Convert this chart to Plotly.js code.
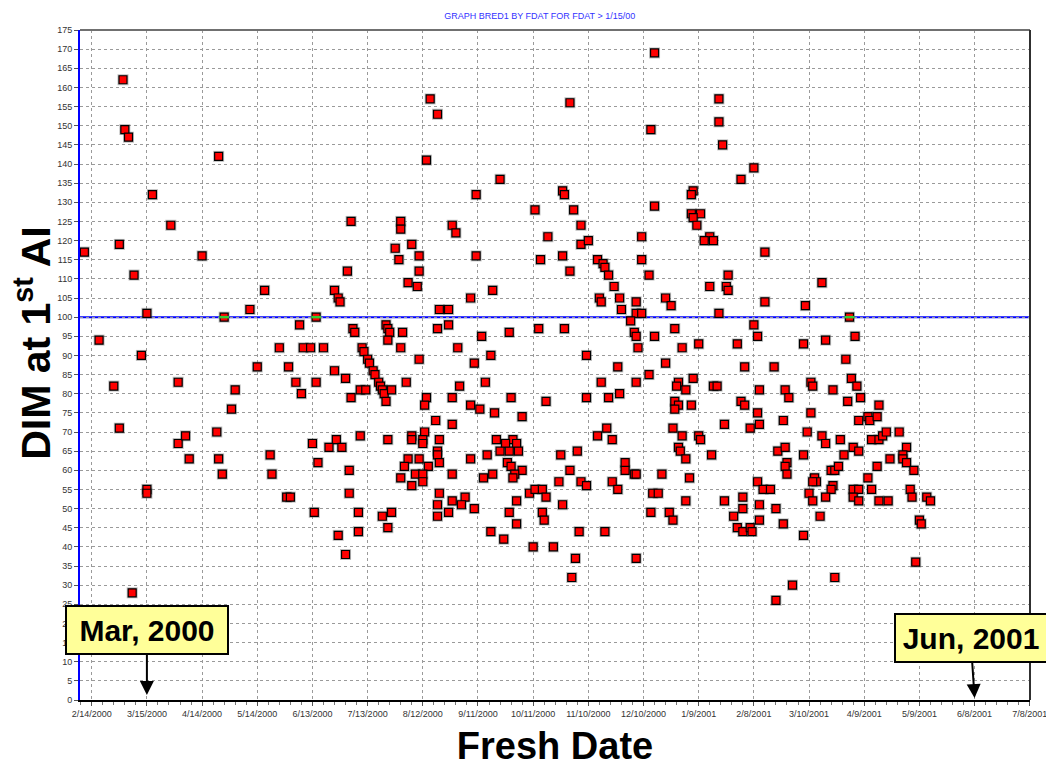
<!DOCTYPE html>
<html>
<head>
<meta charset="utf-8">
<script src="https://cdn.plot.ly/plotly-3.0.1.min.js"></script>
<style>
  html, body { margin: 0; padding: 0; background: #ffffff; }
  #chart { width: 1046px; height: 767px; }
</style>
</head>
<body>
<div id="chart"></div>
<script>
// ---------- DATA ----------
const chartTitle = 'GRAPH BRED1 BY FDAT FOR FDAT > 1/15/00';
const xAxisTitle = 'Fresh Date';
const yAxisTitle = 'DIM at 1<sup>st</sup> AI';

const xTickDates = ['2000-02-14','2000-03-15','2000-04-14','2000-05-14','2000-06-13','2000-07-13',
  '2000-08-12','2000-09-11','2000-10-11','2000-11-10','2000-12-10','2001-01-09','2001-02-08',
  '2001-03-10','2001-04-09','2001-05-09','2001-06-08','2001-07-08'];
const xTickLabels = ['2/14/2000','3/15/2000','4/14/2000','5/14/2000','6/13/2000','7/13/2000',
  '8/12/2000','9/11/2000','10/11/2000','11/10/2000','12/10/2000','1/9/2001','2/8/2001',
  '3/10/2001','4/9/2001','5/9/2001','6/8/2001','7/8/2001'];

const targetDIM = 100;

// Fresh date of each cow and its DIM at first AI
const freshDates = [
 '2000-02-10','2000-02-18','2000-03-02','2000-03-03','2000-03-05','2000-04-23','2000-03-18','2000-03-28',
 '2000-02-29','2000-03-08','2000-04-14','2000-03-15','2000-05-10','2000-03-12',
 '2000-02-26','2000-02-29','2000-04-01','2000-04-01','2000-04-05','2000-04-07','2000-04-22','2000-04-23',
 '2000-04-25','2000-04-30','2000-05-02','2000-05-14','2000-03-15','2000-03-15','2000-03-07',
 '2000-08-16','2000-08-20','2000-08-14','2000-07-04','2000-07-31','2000-07-31','2000-07-28','2000-08-06',
 '2000-07-30','2000-08-10','2000-07-02','2000-08-10','2000-08-04','2000-08-09','2000-05-18','2000-06-25',
 '2000-06-27','2000-06-28','2000-08-21','2000-06-06','2000-07-05','2000-07-06','2000-07-23','2000-07-24',
 '2000-07-25','2000-08-01','2000-07-24','2000-08-20','2000-05-26','2000-06-08','2000-06-12','2000-06-19',
 '2000-07-10','2000-07-11','2000-07-31','2000-08-10','2000-07-13',
 '2000-05-31','2000-07-14','2000-07-16','2000-07-17','2000-07-19','2000-07-20','2000-07-21','2000-07-22',
 '2000-07-23','2000-06-25','2000-07-01','2000-06-04','2000-06-15','2000-06-07','2000-07-09','2000-07-12',
 '2000-07-26','2000-07-04','2000-08-03','2000-08-14','2000-08-13','2000-08-19','2000-08-13','2000-08-06',
 '2000-08-06','2000-08-12','2000-08-12','2000-08-21','2000-07-09','2000-07-24','2000-06-26','2000-06-13',
 '2000-06-22','2000-06-29','2000-05-21','2000-06-16','2000-05-22','2000-07-03','2000-08-04','2000-08-10',
 '2000-08-20','2000-08-20','2000-08-02','2000-08-15','2000-08-08','2000-08-12','2000-08-12','2000-07-31',
 '2000-08-06','2000-08-21','2000-08-20','2000-08-20','2000-05-30','2000-06-01','2000-07-03','2000-06-14',
 '2000-07-08','2000-07-21','2000-07-26','2000-07-24','2000-06-27','2000-07-08','2000-07-01','2000-08-21',
 '2000-10-31','2000-09-23','2000-09-10','2000-10-27','2000-10-28','2000-10-12','2000-11-02','2000-08-28',
 '2000-08-30','2000-11-06','2000-10-19','2000-11-06','2000-11-10','2000-09-10','2000-10-15','2000-10-27',
 '2000-10-31','2000-11-15','2000-11-18','2000-11-19','2000-11-21','2000-11-24','2000-11-27','2000-11-28',
 '2000-11-16','2000-11-17','2000-12-06','2000-12-06','2000-09-07','2000-09-19','2000-08-26','2000-12-03',
 '2000-08-26','2000-09-13','2000-09-28','2000-10-14','2000-10-28','2000-12-05','2000-12-06','2000-12-07',
 '2000-08-31','2000-09-18','2000-11-09',
 '2000-09-09','2000-11-26','2000-09-01','2000-09-15','2000-11-17','2000-12-06','2000-08-28','2000-09-29',
 '2000-10-18','2000-11-09','2000-11-21','2000-11-27','2000-09-07','2000-09-12','2000-09-20','2000-10-05',
 '2000-08-28','2000-11-20','2000-11-15','2000-11-23','2000-09-21','2000-09-30','2000-09-26','2000-10-02',
 '2000-09-23','2000-09-28','2000-10-03','2000-09-07','2000-09-16','2000-10-26','2000-11-04','2000-09-27',
 '2000-09-29','2000-10-05','2000-10-01','2000-09-30','2000-08-28','2000-09-19','2000-09-14','2000-10-31',
 '2000-11-30','2000-11-30','2000-12-05','2000-12-06','2000-10-25','2000-11-06','2000-11-09','2000-11-23',
 '2000-11-26','2000-08-28','2000-09-04','2000-09-02','2000-08-26','2000-09-09','2000-10-09','2000-10-12',
 '2000-10-16','2000-10-18','2000-10-02','2000-10-27','2000-09-28','2000-10-16','2000-10-17','2000-10-02',
 '2000-09-18','2000-11-05','2000-11-19','2000-09-25','2000-10-11','2000-10-22','2000-11-03','2000-11-01',
 '2000-12-06',
 '2000-12-16','2001-01-20','2001-01-20','2000-12-14','2001-01-22','2001-02-08','2001-02-01','2001-01-06',
 '2001-01-05','2000-12-16','2001-01-05','2001-01-10','2001-01-06','2001-01-08','2001-01-15','2001-01-12',
 '2001-01-17','2000-12-09','2001-02-14','2000-12-09','2000-12-13','2001-01-25','2001-01-15','2001-01-24',
 '2001-01-25','2001-03-17','2000-12-22','2000-12-25','2001-02-14','2001-03-08','2000-12-09','2001-01-20',
 '2001-02-08','2000-12-16','2000-12-27','2001-02-10','2000-12-31','2001-01-09','2001-01-30','2001-03-07',
 '2001-03-19',
 '2000-12-22','2001-02-03','2001-02-19','2000-12-13','2000-12-29','2000-12-28','2001-01-06','2001-01-02',
 '2001-01-17','2001-01-19','2001-02-11','2001-02-25','2001-02-27','2001-03-11','2001-03-12','2001-03-23',
 '2000-12-27','2000-12-29','2000-12-27','2001-01-05','2001-02-01','2001-02-03','2001-02-10','2001-03-11',
 '2001-02-11','2001-02-24','2000-12-26','2001-01-23','2001-02-06','2001-03-09','2000-12-31','2001-01-09',
 '2001-01-10','2001-03-17','2001-03-19','2001-03-27','2000-12-29','2000-12-30','2001-01-02','2001-01-16',
 '2001-02-21','2001-02-25','2001-03-07','2001-02-26','2001-02-25','2001-02-26','2000-12-20','2001-01-04',
 '2001-03-22','2001-03-24','2001-03-26','2001-02-10','2001-02-13','2001-02-17','2001-03-13','2001-03-14',
 '2001-03-12','2001-03-23','2001-03-22','2000-12-15','2000-12-18','2001-01-02','2001-01-23','2001-02-02',
 '2001-02-02','2001-02-11','2001-02-20','2001-03-10','2001-03-12','2001-03-19','2000-12-14','2000-12-24',
 '2000-12-26','2001-01-28','2001-02-11','2001-02-24','2001-03-16','2001-01-30','2001-02-02','2001-02-06',
 '2001-02-07','2001-03-07','2001-03-24','2001-03-01','2001-02-20',
 '2001-04-04','2001-03-30','2001-04-02','2001-04-05','2001-03-31','2001-04-07','2001-04-17','2001-04-06',
 '2001-04-11','2001-04-12','2001-04-16','2001-04-13','2001-04-17','2001-04-19','2001-04-21','2001-04-28',
 '2001-04-03','2001-04-06','2001-03-29','2001-05-02','2001-04-30','2001-04-30','2001-05-02','2001-04-23',
 '2001-04-16','2001-05-06','2001-04-11','2001-04-03','2001-04-06','2001-04-03','2001-04-06','2001-04-13',
 '2001-04-17','2001-04-22','2001-05-04','2001-05-05','2001-05-13','2001-05-15','2001-05-09','2001-05-10',
 '2001-05-07'
];
const dimAtFirstAI = [
 117,94,162,149,147,142,132,124,
 119,111,116,101,102,90,
 82,71,83,67,69,63,70,63,
 59,76,81,87,55,54,28,
 157,153,141,125,125,123,118,119,
 115,116,112,112,109,108,107,107,
 105,104,102,98,97,96,98,97,
 96,96,94,97,92,92,92,92,
 92,91,92,89,89,
 87,88,86,85,83,82,81,80,
 78,86,84,83,83,80,81,81,
 81,79,83,79,77,73,70,69,
 68,68,67,68,69,68,68,67,
 66,66,64,62,59,60,63,63,
 65,64,61,61,59,59,57,58,
 56,54,51,48,53,53,54,49,
 49,48,49,45,43,44,38,62,
 156,136,132,133,132,128,128,124,
 122,124,121,119,120,116,115,116,
 112,115,114,113,111,108,105,102,
 105,104,104,101,105,107,102,99,
 98,95,96,97,97,96,95,92,
 92,90,90,
 88,87,82,83,83,83,79,79,
 78,79,79,80,77,76,75,74,
 72,71,69,68,68,68,67,67,
 65,65,65,63,64,64,65,62,
 61,60,59,58,59,59,58,60,
 62,60,59,59,57,57,56,57,
 55,52,53,51,49,50,54,55,
 55,53,52,51,49,49,47,46,
 44,44,44,42,40,40,37,32,
 37,
 169,157,151,149,145,139,136,133,
 132,129,127,127,126,124,121,120,
 120,121,117,115,111,111,108,108,
 107,109,105,103,104,103,101,101,
 98,95,97,95,92,93,93,93,
 94,
 88,87,87,85,83,82,84,81,
 82,82,81,81,79,83,82,81,
 78,77,76,77,78,77,75,75,
 72,73,71,72,71,70,69,69,
 68,69,67,68,66,65,63,64,
 65,66,64,62,61,59,59,58,
 60,60,61,57,55,55,58,57,
 57,56,55,54,54,52,52,53,
 50,51,50,54,52,53,49,49,
 47,48,47,46,48,45,44,45,
 44,43,32,30,26,
 95,89,84,82,78,79,77,73,
 74,73,74,68,68,69,70,70,
 66,65,64,66,64,63,62,63,
 61,60,58,55,55,53,52,55,
 52,52,55,53,53,52,47,46,
 36
];

// cows flagged at exactly the target DIM (drawn with a green mark)
const flaggedDates = ['2000-04-26','2000-06-15','2001-04-01'];
const flaggedDim = [100,100,100];

// ---------- CHART ----------
const baseFont = 'Liberation Sans, Arial, Helvetica, sans-serif';

const traces = [
  { // soft grey halo / shadow under markers
    type: 'scatter', mode: 'markers',
    x: freshDates.concat(flaggedDates), y: dimAtFirstAI.concat(flaggedDim),
    marker: { symbol: 'square', size: 11, color: 'rgba(110,110,110,0.45)', line: { width: 0 } },
    hoverinfo: 'skip', showlegend: false
  },
  {
    type: 'scatter', mode: 'markers', name: 'DIM at 1st AI',
    x: freshDates.concat(flaggedDates), y: dimAtFirstAI.concat(flaggedDim),
    marker: { symbol: 'square', size: 8, color: '#ff0000', line: { color: '#000000', width: 1.2 } },
    showlegend: false
  },
  {
    type: 'scatter', mode: 'markers',
    x: flaggedDates, y: flaggedDim,
    marker: { symbol: 'line-ew', size: 7, line: { color: '#33cc33', width: 2.5 } },
    hoverinfo: 'skip', showlegend: false
  }
];

const layout = {
  width: 1046, height: 767,
  margin: { l: 80, r: 16, t: 30, b: 67 },
  paper_bgcolor: '#ffffff', plot_bgcolor: '#ffffff',
  font: { family: baseFont, color: '#222222' },
  showlegend: false,
  title: {
    text: chartTitle, x: 0.516, xanchor: 'center', y: 0.979, yanchor: 'middle',
    font: { family: baseFont, size: 9, color: '#3333ff' }
  },
  xaxis: {
    type: 'date',
    range: ['2000-02-07 15:00', '2001-07-08 03:00'],
    tickmode: 'array', tickvals: xTickDates, ticktext: xTickLabels,
    ticklabeloverflow: 'allow',
    tickfont: { size: 9, color: '#333333' },
    ticks: 'outside', ticklen: 4, tickcolor: '#555555',
    showgrid: true, gridcolor: '#9a9a9a', gridwidth: 1, griddash: '3px,3px',
    showline: true, linecolor: '#000000', linewidth: 2,
    zeroline: false,
    minor: { ticks: 'outside', ticklen: 3, tickcolor: '#777777', dtick: 6 * 86400000, tick0: '2000-02-14', showgrid: false },
    title: { text: xAxisTitle, standoff: 21, font: { family: baseFont, size: 38, color: '#000000', weight: 'bold' } }
  },
  yaxis: {
    range: [0, 175], tick0: 0, dtick: 5,
    tickfont: { size: 9, color: '#333333' },
    ticks: 'outside', ticklen: 4, tickcolor: '#555555',
    showgrid: true, gridcolor: '#9a9a9a', gridwidth: 1, griddash: '3px,3px',
    showline: true, linecolor: '#0000ff', linewidth: 2,
    zeroline: false
  },
  shapes: [
    { type: 'line', xref: 'paper', x0: 0, x1: 1, yref: 'y', y0: targetDIM, y1: targetDIM,
      line: { color: '#0000ff', width: 2 }, layer: 'below' },
    { type: 'line', xref: 'paper', x0: 0, x1: 1, yref: 'paper', y0: 1, y1: 1,
      line: { color: '#707070', width: 2 } },
    { type: 'line', xref: 'paper', x0: 1, x1: 1, yref: 'paper', y0: 0, y1: 1,
      line: { color: '#303030', width: 2 } }
  ],
  annotations: [
    { // y-axis title
      xref: 'paper', yref: 'paper', x: -0.0495, y: 0.533, xanchor: 'center', yanchor: 'middle',
      text: '<b>' + yAxisTitle + '</b>', textangle: -90, showarrow: false,
      font: { family: baseFont, size: 41, color: '#000000' } },
    { x: '2000-03-15', y: 1.3, xref: 'x', yref: 'y', text: '<b>Mar, 2000</b>',
      showarrow: true, ax: 0, ay: -65, arrowhead: 2, arrowsize: 1.4, arrowwidth: 2, arrowcolor: '#000000',
      font: { family: baseFont, size: 30, color: '#000000' },
      bgcolor: '#ffff99', bordercolor: '#000000', borderwidth: 2, borderpad: 5, width: 150, height: 36 },
    { x: '2001-06-08', y: 0.5, xref: 'x', yref: 'y', text: '<b>Jun, 2001</b>',
      showarrow: true, ax: -4, ay: -60, arrowhead: 2, arrowsize: 1.4, arrowwidth: 2, arrowcolor: '#000000',
      font: { family: baseFont, size: 30, color: '#000000' },
      bgcolor: '#ffff99', bordercolor: '#000000', borderwidth: 2, borderpad: 5, width: 140, height: 36 }
  ]
};

Plotly.newPlot('chart', traces, layout, { displayModeBar: false, staticPlot: true });
</script>
</body>
</html>
